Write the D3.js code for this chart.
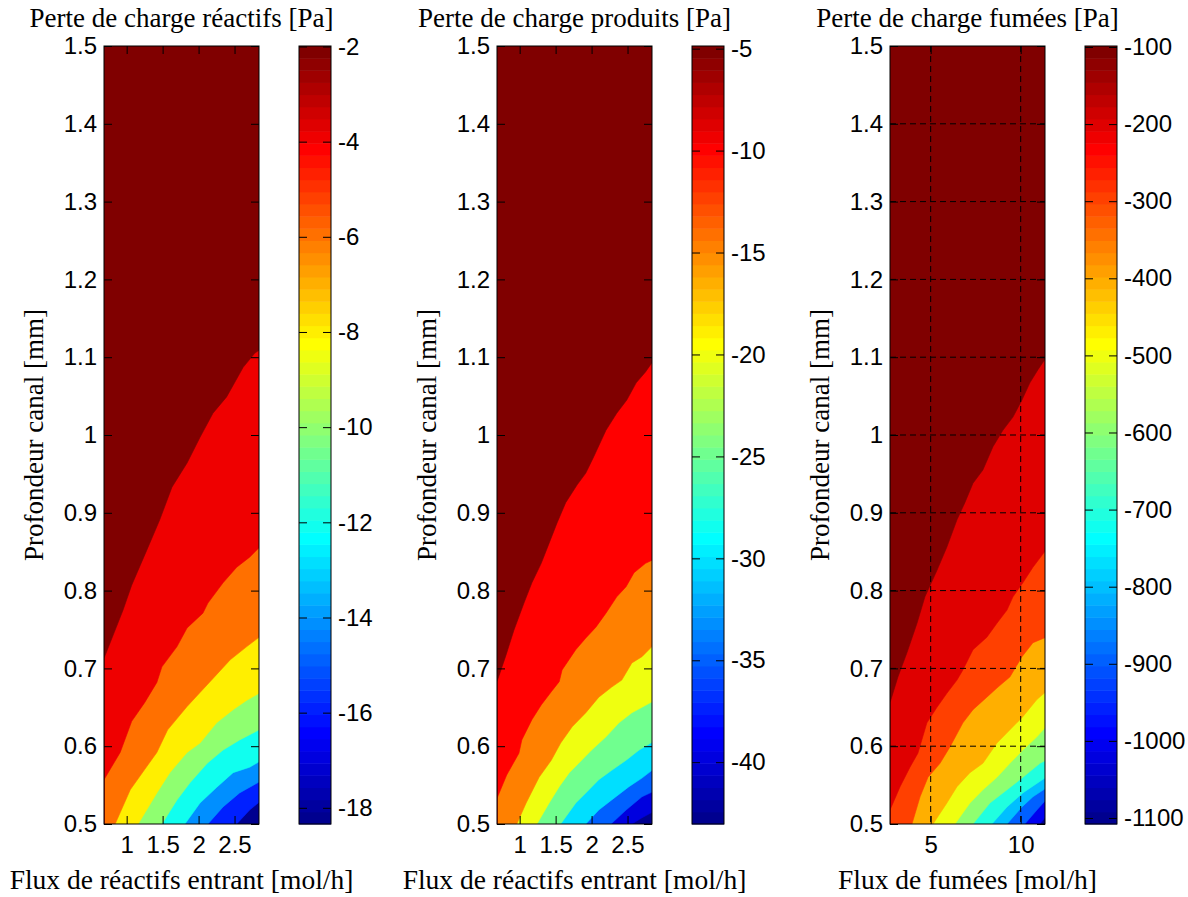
<!DOCTYPE html>
<html><head><meta charset="utf-8">
<script src="https://cdn.jsdelivr.net/npm/d3@7"></script>
<style>body{margin:0;background:#fff;} svg{display:block;}</style>
</head><body><svg id="chart" width="1188" height="897"></svg>
<script>
// ---------------- DATA ----------------
const titles = ["Perte de charge réactifs [Pa]", "Perte de charge produits [Pa]", "Perte de charge fumées [Pa]"];
const xLabels = ["Flux de réactifs entrant [mol/h]", "Flux de réactifs entrant [mol/h]", "Flux de fumées [mol/h]"];
const yLabel = "Profondeur canal [mm]";
const yRange = [0.5, 1.5];
const yTicks = [0.5, 0.6, 0.7, 0.8, 0.9, 1, 1.1, 1.2, 1.3, 1.4, 1.5];

const reactifsXRange = [0.685, 2.84];
const reactifsXTicks = [1, 1.5, 2, 2.5];
const reactifsCLim = [-18.34, -1.99];
const reactifsBarTicks = [-18, -16, -14, -12, -10, -8, -6, -4, -2];
const reactifsLevels = [-16, -14, -12, -10, -8, -6, -4, -2];
// iso-lines [flux, depth] for each level above (lowest first)
const reactifsContours = [
  [[2.53,0.5],[2.71,0.518],[2.84,0.528]],
  [[2.13,0.5],[2.34,0.522],[2.57,0.540],[2.84,0.554]],
  [[1.81,0.5],[2.02,0.527],[2.25,0.547],[2.48,0.566],[2.71,0.573],[2.84,0.580]],
  [[1.49,0.5],[1.70,0.531],[1.88,0.553],[2.12,0.578],[2.34,0.595],[2.57,0.608],[2.84,0.621]],
  [[1.16,0.5],[1.42,0.540],[1.60,0.566],[1.84,0.592],[2.02,0.604],[2.25,0.630],[2.48,0.647],[2.67,0.659],[2.84,0.668]],
  [[0.84,0.5],[1.05,0.544],[1.25,0.570],[1.42,0.592],[1.57,0.621],[1.84,0.651],[2.02,0.669],[2.23,0.690],[2.44,0.711],[2.67,0.728],[2.84,0.740]],
  [[0.685,0.557],[0.91,0.592],[1.07,0.632],[1.25,0.656],[1.42,0.682],[1.49,0.702],[1.70,0.728],[1.84,0.752],[2.06,0.771],[2.13,0.784],[2.34,0.810],[2.53,0.830],[2.71,0.843],[2.84,0.855]],
  [[0.685,0.713],[0.95,0.775],[1.07,0.807],[1.28,0.852],[1.46,0.891],[1.63,0.933],[1.84,0.964],[2.02,0.997],[2.20,1.028],[2.39,1.049],[2.62,1.087],[2.78,1.105],[2.84,1.109]]
];

const produitsXRange = [0.685, 2.84];
const produitsXTicks = [1, 1.5, 2, 2.5];
const produitsCLim = [-43.03, -4.87];
const produitsBarTicks = [-40, -35, -30, -25, -20, -15, -10, -5];
const produitsLevels = [-40, -35, -30, -25, -20, -15, -10, -5];
const produitsContours = [
  [[2.56,0.5],[2.70,0.508],[2.84,0.515]],
  [[2.27,0.5],[2.48,0.518],[2.70,0.535],[2.84,0.541]],
  [[1.92,0.5],[2.10,0.518],[2.28,0.531],[2.52,0.548],[2.70,0.559],[2.84,0.569]],
  [[1.57,0.5],[1.78,0.527],[1.92,0.540],[2.10,0.557],[2.28,0.569],[2.48,0.582],[2.66,0.595],[2.84,0.605]],
  [[1.24,0.5],[1.41,0.527],[1.55,0.548],[1.69,0.566],[1.82,0.578],[2.00,0.595],[2.20,0.612],[2.38,0.630],[2.56,0.643],[2.70,0.650],[2.84,0.657]],
  [[0.96,0.5],[1.09,0.527],[1.27,0.560],[1.44,0.582],[1.57,0.604],[1.73,0.625],[1.92,0.643],[2.10,0.663],[2.28,0.676],[2.42,0.685],[2.56,0.707],[2.70,0.715],[2.84,0.728]],
  [[0.685,0.533],[0.82,0.563],[0.99,0.591],[1.03,0.608],[1.17,0.634],[1.30,0.653],[1.44,0.670],[1.55,0.683],[1.59,0.698],[1.78,0.724],[1.92,0.739],[2.06,0.753],[2.20,0.771],[2.35,0.792],[2.48,0.805],[2.59,0.823],[2.75,0.835],[2.84,0.839]],
  [[0.685,0.683],[0.81,0.717],[0.92,0.749],[1.06,0.784],[1.17,0.810],[1.30,0.835],[1.41,0.861],[1.52,0.887],[1.64,0.913],[1.80,0.936],[1.92,0.951],[2.03,0.972],[2.20,1.006],[2.35,1.028],[2.49,1.045],[2.62,1.067],[2.75,1.081],[2.84,1.093]]
];

const fumeesXRange = [2.74, 11.35];
const fumeesXTicks = [5, 10];
const fumeesCLim = [-1107.8, -98.7];
const fumeesBarTicks = [-1100, -1000, -900, -800, -700, -600, -500, -400, -300, -200, -100];
const fumeesLevels = [-1000, -900, -800, -700, -600, -500, -400, -300, -200, -100];
const fumeesContours = [
  [[11.07,0.5],[11.4,0.51]],
  [[10.23,0.5],[10.90,0.518],[11.4,0.531]],
  [[9.24,0.5],[10.07,0.522],[10.68,0.535],[11.4,0.546]],
  [[8.40,0.5],[9.24,0.522],[10.12,0.540],[11.4,0.560]],
  [[7.35,0.5],[8.29,0.527],[9.24,0.544],[10.12,0.560],[11.07,0.578],[11.4,0.582]],
  [[6.35,0.5],[7.18,0.527],[7.90,0.544],[8.68,0.560],[9.40,0.578],[10.12,0.595],[10.90,0.612],[11.4,0.625]],
  [[5.13,0.5],[5.90,0.527],[6.46,0.548],[7.18,0.566],[7.90,0.578],[8.68,0.604],[9.40,0.621],[10.12,0.638],[10.90,0.660],[11.4,0.670]],
  [[3.96,0.5],[4.41,0.535],[4.85,0.560],[5.52,0.578],[6.07,0.599],[6.79,0.630],[7.35,0.647],[8.12,0.663],[8.74,0.676],[9.40,0.689],[10.07,0.715],[10.68,0.733],[11.4,0.740]],
  [[2.74,0.518],[3.30,0.548],[3.85,0.573],[4.29,0.591],[4.79,0.630],[5.35,0.650],[5.90,0.668],[6.46,0.685],[6.79,0.698],[7.35,0.724],[8.12,0.740],[8.68,0.758],[9.24,0.775],[9.57,0.792],[10.12,0.810],[10.68,0.830],[11.4,0.852]],
  [[2.74,0.656],[3.18,0.689],[3.68,0.720],[4.24,0.758],[4.68,0.792],[5.35,0.826],[5.90,0.856],[6.46,0.891],[6.90,0.913],[7.35,0.938],[7.90,0.955],[8.46,0.985],[9.01,1.006],[9.57,1.023],[10.07,1.045],[10.51,1.067],[10.96,1.084],[11.4,1.099]]
];

// ---------------- RENDER ----------------
const svg = d3.select('#chart');
const TOP = 46, BOTTOM = 824, PW = 155, CBW = 32, CB_OFF = 195;
const SERIF = '"Liberation Serif", "Times New Roman", serif';
const SANS = '"Liberation Sans", Arial, sans-serif';

function jetColor(t) {
  let idx = Math.floor(t * 64);
  idx = Math.max(0, Math.min(63, idx));
  const row = idx + 1;
  const u = k => (k >= 1 && k <= 16) ? k / 16 : (k >= 17 && k <= 31) ? 1 : (k >= 32 && k <= 47) ? (48 - k) / 16 : 0;
  return d3.rgb(Math.round(u(row - 24) * 255), Math.round(u(row - 8) * 255), Math.round(u(row + 8) * 255)).formatHex();
}

function styleAxis(g, labels) {
  g.select('.domain').remove();
  g.selectAll('.tick line').attr('stroke', '#000').attr('stroke-width', 1);
  g.selectAll('.tick text').attr('fill', '#000').style('font-family', SANS).style('font-size', '24px');
  if (!labels) g.selectAll('.tick text').remove();
}

const plainFmt = d => String(+(+d).toFixed(2));

function drawPanel(cfg, i) {
  const left = cfg.left;
  const x = d3.scaleLinear().domain(cfg.xRange).range([left, left + PW]);
  const y = d3.scaleLinear().domain(yRange).range([BOTTOM, TOP]);
  const cnorm = v => (v - cfg.clim[0]) / (cfg.clim[1] - cfg.clim[0]);
  const clipId = 'clip' + i;
  svg.append('clipPath').attr('id', clipId).append('rect')
    .attr('x', left).attr('y', TOP).attr('width', PW).attr('height', BOTTOM - TOP);

  const plot = svg.append('g').attr('clip-path', `url(#${clipId})`);
  plot.append('rect').attr('x', left).attr('y', TOP).attr('width', PW).attr('height', BOTTOM - TOP)
    .attr('fill', jetColor(0));
  const line = d3.line().x(d => x(d[0])).y(d => y(d[1]));
  const xd = cfg.xRange;
  cfg.levels.forEach((lev, k) => {
    const pts = cfg.contours[k].concat([[xd[1], yRange[1]], [xd[0], yRange[1]], [xd[0], yRange[0]]]);
    const col = jetColor(cnorm(lev));
    plot.append('path').attr('d', line(pts) + 'Z').attr('fill', col)
      .attr('stroke', col).attr('stroke-width', 0.6);
  });

  if (cfg.grid) {
    const gg = plot.append('g');
    cfg.xTicks.forEach(t => gg.append('line').attr('x1', x(t)).attr('x2', x(t)).attr('y1', TOP).attr('y2', BOTTOM)
      .attr('stroke', '#000').attr('stroke-dasharray', '6,4'));
    yTicks.slice(1, -1).forEach(t => gg.append('line').attr('x1', left).attr('x2', left + PW).attr('y1', y(t)).attr('y2', y(t))
      .attr('stroke', '#000').attr('stroke-dasharray', '6,4'));
  }

  svg.append('g').attr('transform', `translate(0,${BOTTOM})`)
    .call(d3.axisBottom(x).tickValues(cfg.xTicks).tickFormat(plainFmt).tickSizeInner(-8).tickSizeOuter(0).tickPadding(12))
    .call(g => styleAxis(g, true));
  svg.append('g').attr('transform', `translate(0,${TOP})`)
    .call(d3.axisTop(x).tickValues(cfg.xTicks).tickSizeInner(-8).tickSizeOuter(0))
    .call(g => styleAxis(g, false));
  svg.append('g').attr('transform', `translate(${left},0)`)
    .call(d3.axisLeft(y).tickValues(yTicks).tickFormat(plainFmt).tickSizeInner(-8).tickSizeOuter(0).tickPadding(7))
    .call(g => styleAxis(g, true));
  svg.append('g').attr('transform', `translate(${left + PW},0)`)
    .call(d3.axisRight(y).tickValues(yTicks).tickSizeInner(-8).tickSizeOuter(0))
    .call(g => styleAxis(g, false));
  svg.append('rect').attr('x', left).attr('y', TOP).attr('width', PW).attr('height', BOTTOM - TOP)
    .attr('fill', 'none').attr('stroke', '#000').attr('stroke-width', 1);

  // colorbar
  const cbx = left + CB_OFF;
  const cy = d3.scaleLinear().domain(cfg.clim).range([BOTTOM, TOP]);
  const span = cfg.clim[1] - cfg.clim[0];
  svg.append('g').selectAll('rect').data(d3.range(64)).join('rect')
    .attr('x', cbx).attr('width', CBW)
    .attr('y', r => cy(cfg.clim[0] + (r + 1) / 64 * span))
    .attr('height', r => cy(cfg.clim[0] + r / 64 * span) - cy(cfg.clim[0] + (r + 1) / 64 * span) + 0.5)
    .attr('fill', r => jetColor((r + 0.5) / 64));
  svg.append('g').attr('transform', `translate(${cbx + CBW},0)`)
    .call(d3.axisRight(cy).tickValues(cfg.barTicks).tickFormat(plainFmt).tickSizeInner(-8).tickSizeOuter(0).tickPadding(7))
    .call(g => styleAxis(g, true));
  svg.append('g').attr('transform', `translate(${cbx},0)`)
    .call(d3.axisLeft(cy).tickValues(cfg.barTicks).tickSizeInner(-8).tickSizeOuter(0))
    .call(g => styleAxis(g, false));
  svg.append('rect').attr('x', cbx).attr('y', TOP).attr('width', CBW).attr('height', BOTTOM - TOP)
    .attr('fill', 'none').attr('stroke', '#000').attr('stroke-width', 1);

  const cx = left + PW / 2;
  svg.append('text').attr('x', cx).attr('y', 27).attr('text-anchor', 'middle')
    .style('font-family', SERIF).style('font-size', '27px').text(titles[i]);
  svg.append('text').attr('x', cx).attr('y', 889).attr('text-anchor', 'middle')
    .style('font-family', SERIF).style('font-size', '27.5px').text(xLabels[i]);
  svg.append('text').attr('transform', `translate(${left - 61},${(TOP + BOTTOM) / 2}) rotate(-90)`)
    .attr('text-anchor', 'middle')
    .style('font-family', SERIF).style('font-size', '27px').text(yLabel);
}

const panels = [
  { left: 104, xRange: reactifsXRange, xTicks: reactifsXTicks, clim: reactifsCLim, barTicks: reactifsBarTicks, levels: reactifsLevels, contours: reactifsContours, grid: false },
  { left: 497, xRange: produitsXRange, xTicks: produitsXTicks, clim: produitsCLim, barTicks: produitsBarTicks, levels: produitsLevels, contours: produitsContours, grid: false },
  { left: 890, xRange: fumeesXRange, xTicks: fumeesXTicks, clim: fumeesCLim, barTicks: fumeesBarTicks, levels: fumeesLevels, contours: fumeesContours, grid: true }
];
panels.forEach(drawPanel);
</script>
</body></html>
